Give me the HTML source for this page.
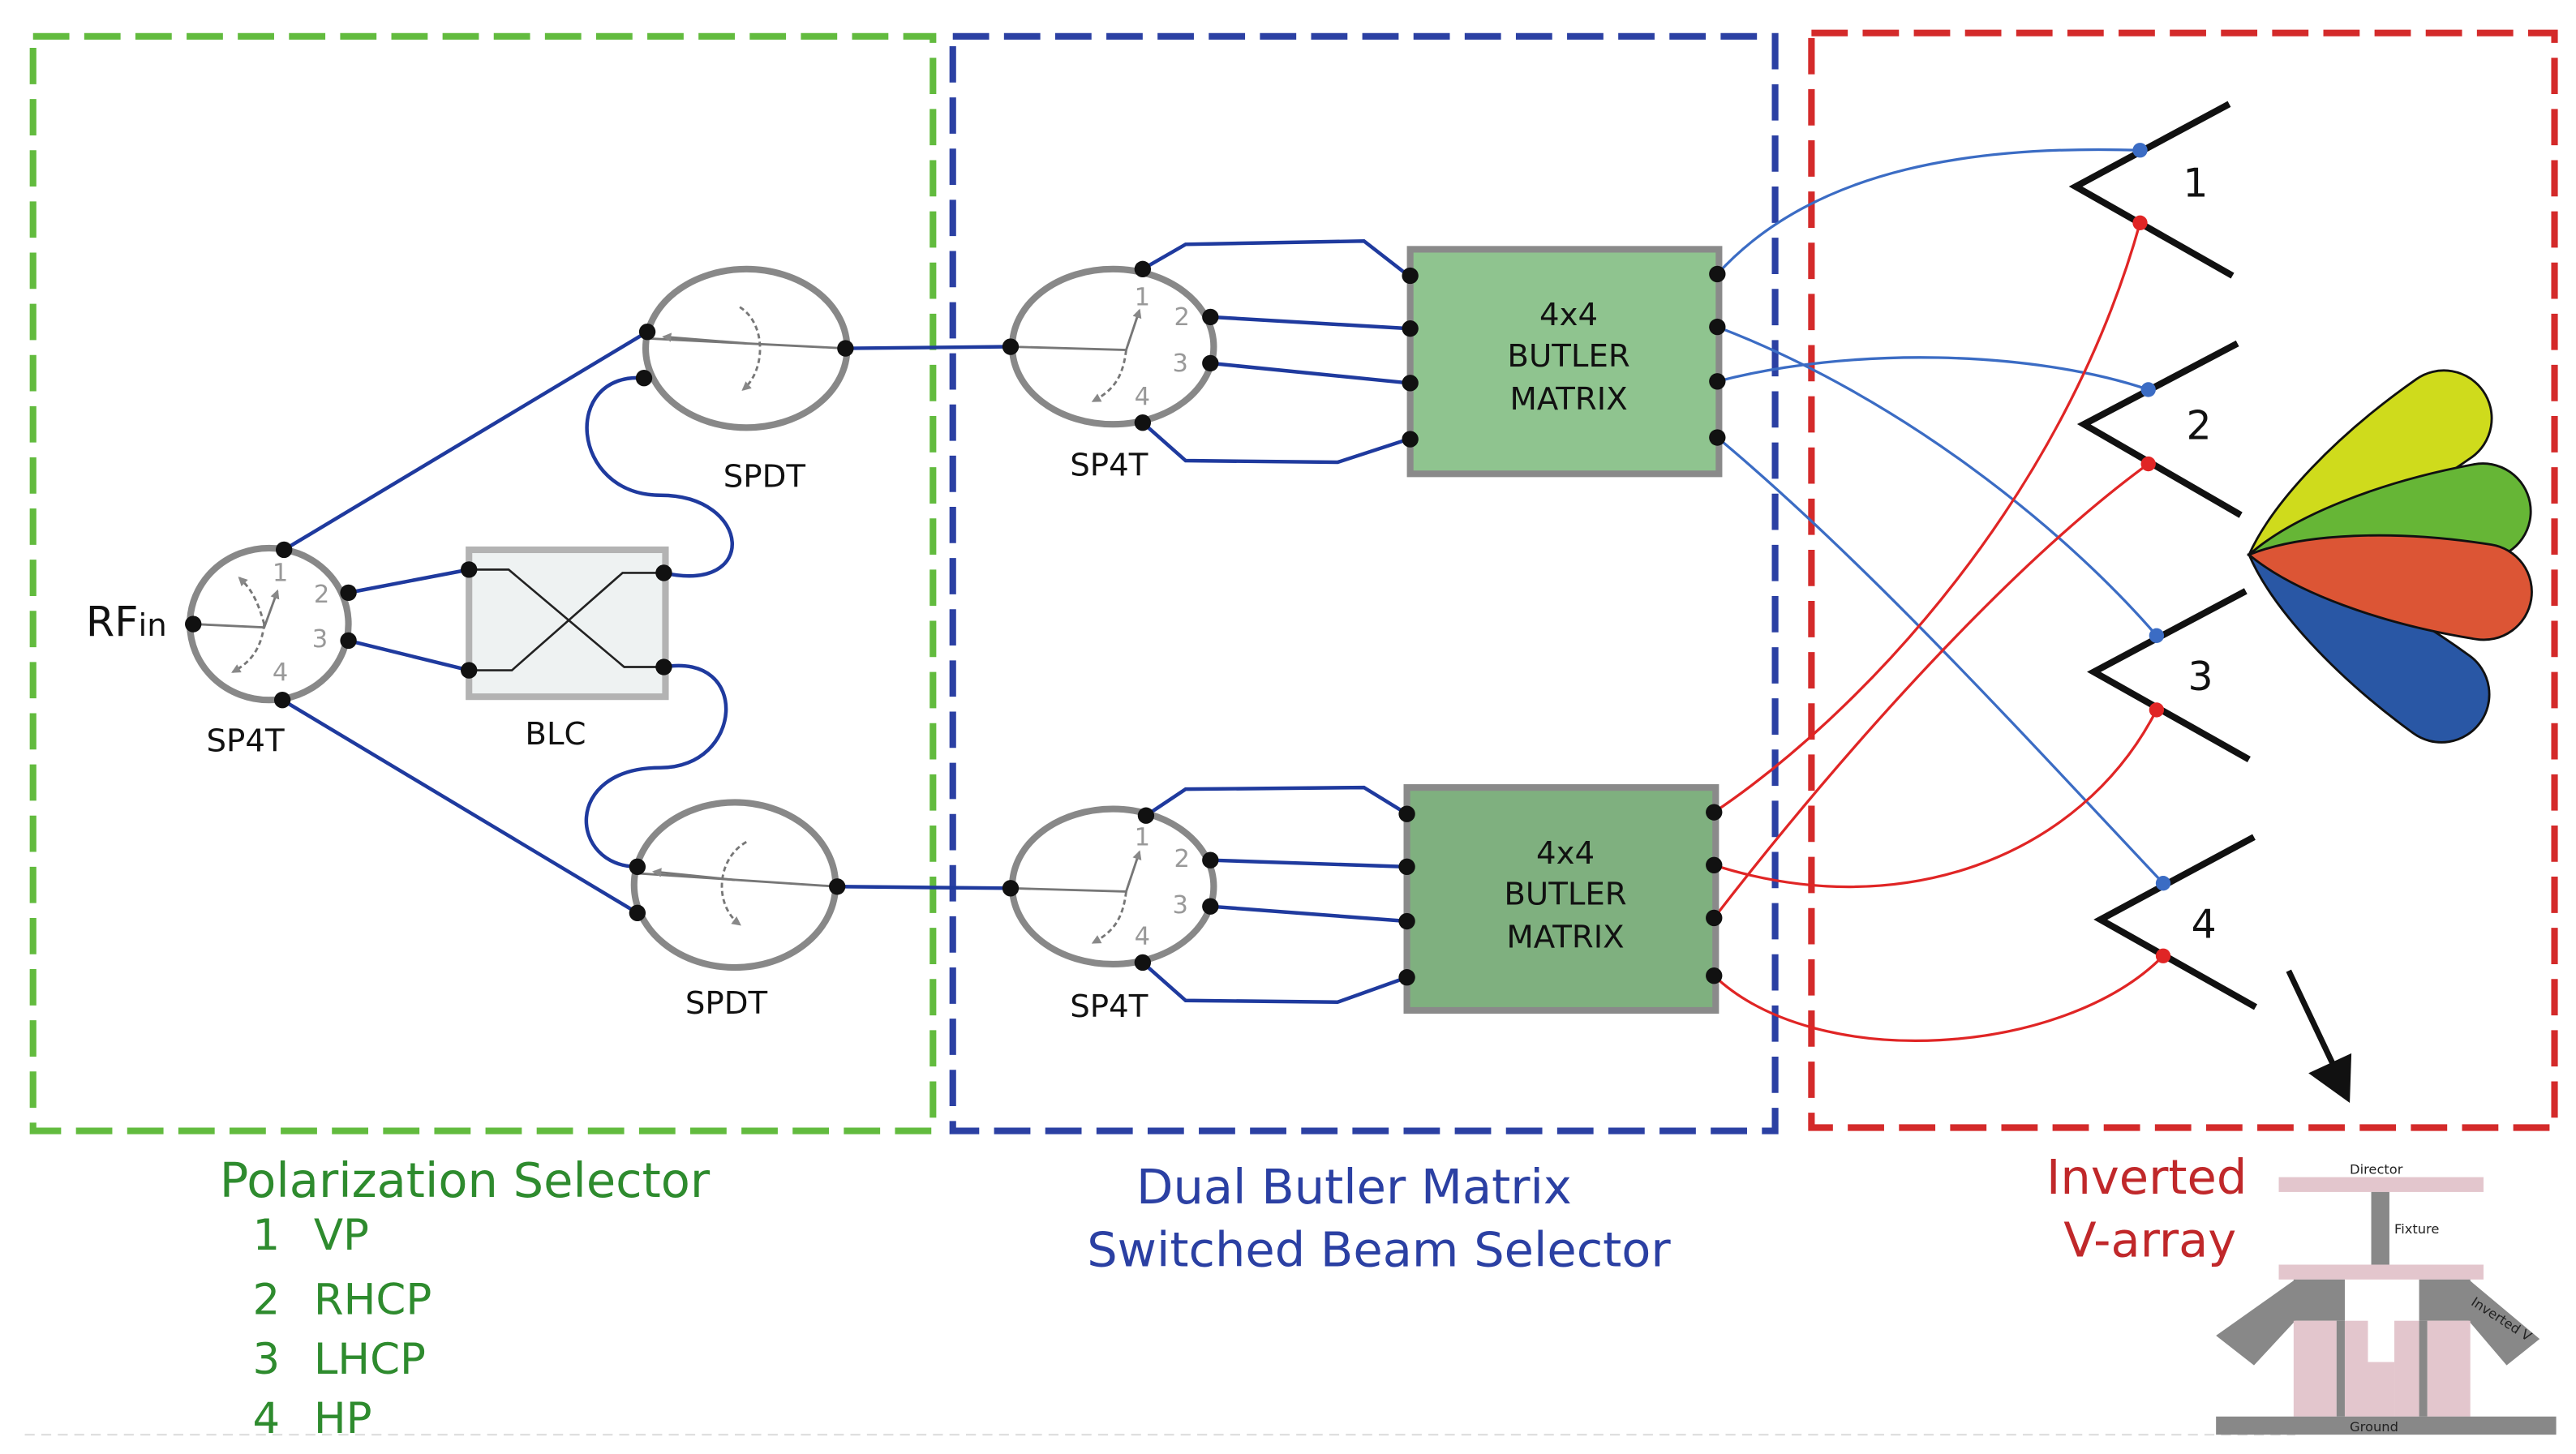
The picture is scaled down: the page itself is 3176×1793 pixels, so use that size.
<!DOCTYPE html>
<html><head><meta charset="utf-8"><style>
html,body{margin:0;padding:0;background:#fff}
svg{display:block}
text{font-family:"DejaVu Sans","Liberation Sans",sans-serif}
</style></head><body>
<svg width="3176" height="1793" viewBox="0 0 1560 880.7" xmlns="http://www.w3.org/2000/svg">
<defs>
<marker id="ah" viewBox="0 0 10 10" refX="8" refY="5" markerWidth="4" markerHeight="4" orient="auto"><path d="M0,0 L10,5 L0,10 Z" fill="#888"/></marker>
<path id="lobe" d="M0,0 C30,-18 85,-29 144,-29 A29,29 0 0 1 144,29 C85,29 30,18 0,0 Z"/>
</defs>
<rect x="20" y="22" width="545" height="663" fill="none" stroke="#62bb3e" stroke-width="4" stroke-dasharray="22 9"/>
<rect x="577" y="22" width="498" height="663" fill="none" stroke="#2b40a3" stroke-width="4" stroke-dasharray="22 9"/>
<rect x="1097" y="20" width="450" height="663" fill="none" stroke="#d42a2a" stroke-width="4" stroke-dasharray="22 9"/>
<line x1="15" y1="869" x2="1390" y2="869" stroke="#ddd" stroke-width="1" stroke-dasharray="6 4"/>

<g fill="none" stroke="#1f3a9e" stroke-width="2.2">
<line x1="172" y1="333" x2="392" y2="201"/>
<line x1="171" y1="424" x2="386" y2="553"/>
<line x1="211" y1="359" x2="284" y2="345"/>
<line x1="211" y1="388" x2="284" y2="406"/>
<path d="M390,229 C340,225 345,300 400,300 C455,300 460,360 402,347"/>
<path d="M402,404 C455,395 450,465 400,465 C340,465 345,525 386,525"/>
<line x1="512" y1="211" x2="612" y2="210"/>
<line x1="507" y1="537" x2="612" y2="538"/>
<path d="M692,163 L718,148 L826,146 L853,167"/>
<line x1="733" y1="192" x2="853" y2="199"/>
<line x1="733" y1="220" x2="853" y2="232"/>
<path d="M692,256 L718,279 L810,280 L853,266"/>
<path d="M694,494 L718,478 L826,477 L852,493"/>
<line x1="733" y1="521" x2="852" y2="525"/>
<line x1="733" y1="549" x2="852" y2="558"/>
<path d="M692,583 L718,606 L810,607 L852,592"/>
</g>
<g fill="none" stroke-width="1.6">
<path d="M1040,166 C1100,100 1200,88 1296,91" stroke="#3b6cc4"/>
<path d="M1040,231 C1120,210 1230,212 1301,236" stroke="#3b6cc4"/>
<path d="M1040,198 C1150,240 1250,320 1306,385" stroke="#3b6cc4"/>
<path d="M1040,265 C1130,340 1230,450 1310,535" stroke="#3b6cc4"/>
<path d="M1038,492 C1130,430 1250,300 1296,135" stroke="#e02525"/>
<path d="M1038,524 C1150,560 1260,520 1306,430" stroke="#e02525"/>
<path d="M1038,556 C1120,450 1220,340 1301,281" stroke="#e02525"/>
<path d="M1038,591 C1100,650 1250,640 1310,579" stroke="#e02525"/>
</g>

<rect x="284" y="333" width="119" height="89" fill="#eef2f2" stroke="#b3b3b3" stroke-width="4"/>
<path d="M284,345 L308,345 L378,404 L402,404 M284,406 L310,406 L377,347 L402,347" fill="none" stroke="#222" stroke-width="1.3"/>

<g fill="#fff" stroke="#888" stroke-width="4">
<ellipse cx="163" cy="378" rx="48" ry="46"/>
<ellipse cx="452" cy="211" rx="61" ry="48"/>
<ellipse cx="445" cy="536" rx="61" ry="50"/>
<ellipse cx="674" cy="210" rx="61" ry="47"/>
<ellipse cx="674" cy="537" rx="61" ry="47"/>
</g>
<g stroke="#777" stroke-width="1.4" fill="none">
<path d="M117,378 L160,380 L168,358" marker-end="url(#ah)"/>
<path d="M160,378 C155,360 150,355 145,350" stroke-dasharray="3 2" marker-end="url(#ah)"/>
<path d="M160,378 C158,395 150,402 141,407" stroke-dasharray="3 2" marker-end="url(#ah)"/>
<line x1="392" y1="205" x2="512" y2="211"/>
<path d="M448,186 C464,196 464,224 450,236" stroke-dasharray="3 2" marker-end="url(#ah)"/>
<path d="M452,208 L402,204" marker-end="url(#ah)"/>
<line x1="386" y1="529" x2="507" y2="537"/>
<path d="M452,510 C434,520 432,548 448,560" stroke-dasharray="3 2" marker-end="url(#ah)"/>
<path d="M445,533 L396,528" marker-end="url(#ah)"/>
<path d="M612,210 L682,212 L690,188" marker-end="url(#ah)"/>
<path d="M682,212 C680,228 675,236 662,243" stroke-dasharray="3 2" marker-end="url(#ah)"/>
<path d="M612,538 L682,540 L690,516" marker-end="url(#ah)"/>
<path d="M682,540 C680,556 675,564 662,571" stroke-dasharray="3 2" marker-end="url(#ah)"/>
</g>
<g fill="#999" font-size="15">
<text x="165" y="352">1</text><text x="190" y="365">2</text><text x="189" y="392">3</text><text x="165" y="412">4</text>
<text x="687" y="185">1</text><text x="711" y="197">2</text><text x="710" y="225">3</text><text x="687" y="245">4</text>
<text x="687" y="512">1</text><text x="711" y="525">2</text><text x="710" y="553">3</text><text x="687" y="572">4</text>
</g>

<rect x="854" y="151" width="187" height="136" fill="#8fc48f" stroke="#8a8a8a" stroke-width="4"/>
<rect x="852" y="477" width="187" height="135" fill="#7fb07f" stroke="#8a8a8a" stroke-width="4"/>
<g font-size="19" fill="#111" text-anchor="middle">
<text x="950" y="197">4x4</text><text x="950" y="222">BUTLER</text><text x="950" y="248">MATRIX</text>
<text x="948" y="523">4x4</text><text x="948" y="548">BUTLER</text><text x="948" y="574">MATRIX</text>
</g>

<g fill="#111">
<circle cx="172" cy="333" r="5"/><circle cx="211" cy="359" r="5"/><circle cx="211" cy="388" r="5"/><circle cx="171" cy="424" r="5"/><circle cx="117" cy="378" r="5"/>
<circle cx="284" cy="345" r="5"/><circle cx="284" cy="406" r="5"/><circle cx="402" cy="347" r="5"/><circle cx="402" cy="404" r="5"/>
<circle cx="392" cy="201" r="5"/><circle cx="390" cy="229" r="5"/><circle cx="512" cy="211" r="5"/>
<circle cx="386" cy="525" r="5"/><circle cx="386" cy="553" r="5"/><circle cx="507" cy="537" r="5"/>
<circle cx="612" cy="210" r="5"/><circle cx="692" cy="163" r="5"/><circle cx="733" cy="192" r="5"/><circle cx="733" cy="220" r="5"/><circle cx="692" cy="256" r="5"/>
<circle cx="612" cy="538" r="5"/><circle cx="694" cy="494" r="5"/><circle cx="733" cy="521" r="5"/><circle cx="733" cy="549" r="5"/><circle cx="692" cy="583" r="5"/>
<circle cx="854" cy="167" r="5"/><circle cx="854" cy="199" r="5"/><circle cx="854" cy="232" r="5"/><circle cx="854" cy="266" r="5"/>
<circle cx="1040" cy="166" r="5"/><circle cx="1040" cy="198" r="5"/><circle cx="1040" cy="231" r="5"/><circle cx="1040" cy="265" r="5"/>
<circle cx="852" cy="493" r="5"/><circle cx="852" cy="525" r="5"/><circle cx="852" cy="558" r="5"/><circle cx="852" cy="592" r="5"/>
<circle cx="1038" cy="492" r="5"/><circle cx="1038" cy="524" r="5"/><circle cx="1038" cy="556" r="5"/><circle cx="1038" cy="591" r="5"/>
</g>

<g font-size="19" fill="#111">
<text x="52" y="385" font-size="25">RF<tspan font-size="19">in</tspan></text>
<text x="125" y="455">SP4T</text>
<text x="318" y="451">BLC</text>
<text x="438" y="295">SPDT</text>
<text x="415" y="614">SPDT</text>
<text x="648" y="288">SP4T</text>
<text x="648" y="616">SP4T</text>
</g>

<g fill="none" stroke="#111" stroke-width="4">
<path d="M1350,63 L1257,113 L1352,167"/>
<path d="M1355,208 L1262,257 L1357,312"/>
<path d="M1360,358 L1268,407 L1362,460"/>
<path d="M1365,507 L1272,557 L1366,610"/>
</g>
<g fill="#3b6cc4"><circle cx="1296" cy="91" r="4.5"/><circle cx="1301" cy="236" r="4.5"/><circle cx="1306" cy="385" r="4.5"/><circle cx="1310" cy="535" r="4.5"/></g>
<g fill="#e02525"><circle cx="1296" cy="135" r="4.5"/><circle cx="1301" cy="281" r="4.5"/><circle cx="1306" cy="430" r="4.5"/><circle cx="1310" cy="579" r="4.5"/></g>
<g font-size="24" fill="#111"><text x="1322" y="119">1</text><text x="1324" y="266">2</text><text x="1325" y="418">3</text><text x="1327" y="568">4</text></g>

<g stroke="#111" stroke-width="1.4">
<use href="#lobe" transform="translate(1362,336) rotate(-35)" fill="#cfdb1c"/>
<use href="#lobe" transform="translate(1362,336) rotate(36)" fill="#2957a5"/>
<use href="#lobe" transform="translate(1362,336) rotate(-10.5)" fill="#66b636"/>
<use href="#lobe" transform="translate(1362,336) rotate(9)" fill="#dc5535"/>
</g>

<line x1="1386" y1="588" x2="1413" y2="645" stroke="#111" stroke-width="3.5"/>
<path d="M1398,650 L1423,668 L1424,638 Z" fill="#111"/>

<g font-size="29" fill="#2e8b2e">
<text x="133" y="725">Polarization Selector</text>
<g font-size="26">
<text x="153" y="757">1</text><text x="190" y="757">VP</text>
<text x="153" y="796">2</text><text x="190" y="796">RHCP</text>
<text x="153" y="832">3</text><text x="190" y="832">LHCP</text>
<text x="153" y="868">4</text><text x="190" y="868">HP</text>
</g>
</g>
<g font-size="29" fill="#2b40a3" text-anchor="middle">
<text x="820" y="729">Dual Butler Matrix</text>
<text x="835" y="767">Switched Beam Selector</text>
</g>
<g font-size="29" fill="#c0282a" text-anchor="middle">
<text x="1300" y="723">Inverted</text>
<text x="1302" y="761">V-array</text>
</g>

<g>
<rect x="1380" y="713" width="124" height="9" fill="#e3c6cd"/>
<rect x="1436" y="722" width="11" height="45" fill="#888"/>
<rect x="1380" y="766" width="124" height="9" fill="#e3c6cd"/>
<polygon points="1390,775 1390,800 1365,827 1342,809" fill="#888"/>
<polygon points="1495,775 1495,800 1518,827 1538,811" fill="#888"/>
<rect x="1389" y="775" width="31" height="25" fill="#888"/>
<rect x="1465" y="775" width="31" height="25" fill="#888"/>
<rect x="1389" y="800" width="26" height="58" fill="#e3c6cd"/>
<rect x="1415" y="800" width="5" height="58" fill="#888"/>
<rect x="1420" y="800" width="14" height="58" fill="#e3c6cd"/>
<rect x="1434" y="825" width="16" height="33" fill="#e3c6cd"/>
<rect x="1450" y="800" width="15" height="58" fill="#e3c6cd"/>
<rect x="1465" y="800" width="5" height="58" fill="#888"/>
<rect x="1470" y="800" width="26" height="58" fill="#e3c6cd"/>
<rect x="1342" y="858" width="206" height="11" fill="#888"/>
<g font-size="8" fill="#222">
<text x="1423" y="711">Director</text>
<text x="1450" y="747">Fixture</text>
<text x="1423" y="867">Ground</text>
<text x="1496" y="790" transform="rotate(33 1496 790)">Inverted V</text>
</g>
</g>
</svg>
</body></html>
